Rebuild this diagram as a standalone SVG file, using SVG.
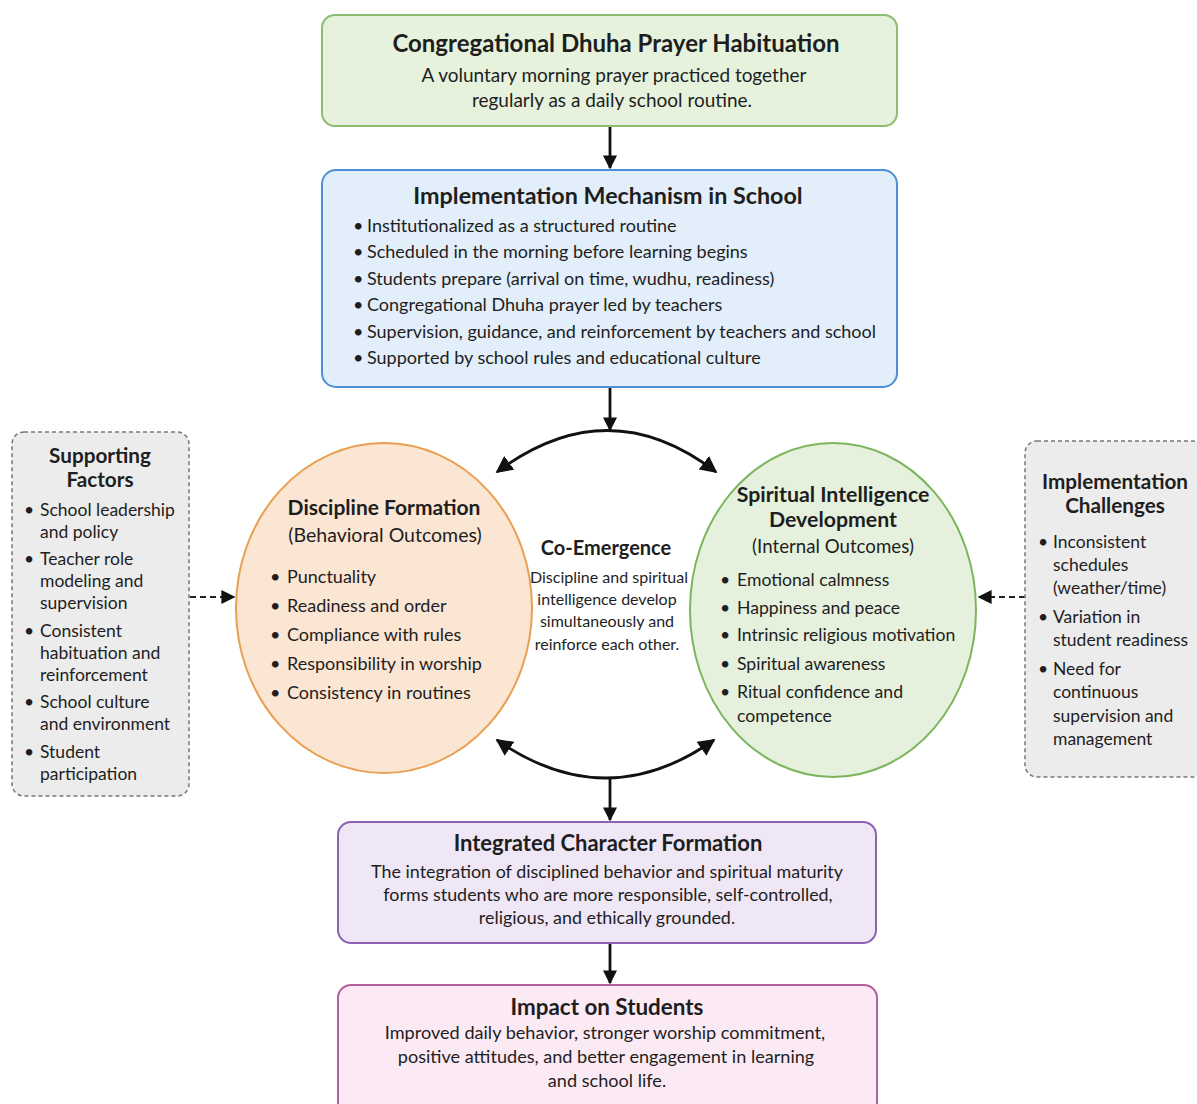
<svg xmlns="http://www.w3.org/2000/svg" width="1197" height="1104" viewBox="0 0 1197 1104">
<defs>
<marker id="ahb" viewBox="0 0 10 10" refX="9" refY="5" markerWidth="17" markerHeight="17" orient="auto-start-reverse" markerUnits="userSpaceOnUse">
<path d="M0,0 L10,5 L0,10 z" fill="#111"/>
</marker>
<marker id="ahs" viewBox="0 0 10 10" refX="9" refY="5" markerWidth="14" markerHeight="14" orient="auto-start-reverse" markerUnits="userSpaceOnUse">
<path d="M0,0 L10,5 L0,10 z" fill="#111"/>
</marker>
</defs>
<style>
text{font-family:Lato,"Open Sans","Liberation Sans",sans-serif;fill:#1e1e1e}
.t{font-weight:bold;text-anchor:middle}
.b{text-anchor:middle}
.sh{font-size:20.7px;font-weight:bold;text-anchor:middle}
.con{stroke:#111;stroke-width:2.8;fill:none}
.dash{stroke:#222;stroke-width:2;fill:none;stroke-dasharray:6 4}
</style>
<rect width="1197" height="1104" fill="#fff"/>

<g id="connectors">
<line class="con" x1="610" y1="127" x2="610" y2="168" marker-end="url(#ahs)"/>
<line class="con" x1="610" y1="388" x2="610" y2="430" marker-end="url(#ahs)"/>
<path class="con" d="M497,472 Q608,389 716,472" marker-start="url(#ahb)" marker-end="url(#ahb)"/>
<path class="con" d="M497,740 Q606,816 714,740" marker-start="url(#ahb)" marker-end="url(#ahb)"/>
<line class="con" x1="610" y1="777" x2="610" y2="820" marker-end="url(#ahs)"/>
<line class="con" x1="610" y1="944" x2="610" y2="983" marker-end="url(#ahs)"/>
<line class="dash" x1="190" y1="597" x2="234" y2="597" marker-end="url(#ahs)"/>
<line class="dash" x1="1025" y1="597" x2="979" y2="597" marker-end="url(#ahs)"/>
</g>

<g id="habituation">
<rect x="322" y="15" width="575" height="111" rx="13" fill="#e6f2dc" stroke="#8dbd70" stroke-width="2"/>
<text class="t" x="616" y="52" style="font-size:24px">Congregational Dhuha Prayer Habituation</text>
<text class="b" x="614" y="82" style="font-size:19px">A voluntary morning prayer practiced together</text>
<text class="b" x="612" y="107" style="font-size:19px">regularly as a daily school routine.</text>
</g>

<g id="mechanism">
<rect x="322" y="170" width="575" height="217" rx="14" fill="#e2eef9" stroke="#4d8fd4" stroke-width="2"/>
<text class="t" x="608" y="204" style="font-size:23.3px">Implementation Mechanism in School</text>
<g style="font-size:18px">
<text x="353" y="232">•</text><text x="367" y="232">Institutionalized as a structured routine</text>
<text x="353" y="258">•</text><text x="367" y="258">Scheduled in the morning before learning begins</text>
<text x="353" y="285">•</text><text x="367" y="285">Students prepare (arrival on time, wudhu, readiness)</text>
<text x="353" y="311">•</text><text x="367" y="311">Congregational Dhuha prayer led by teachers</text>
<text x="353" y="338">•</text><text x="367" y="338">Supervision, guidance, and reinforcement by teachers and school</text>
<text x="353" y="364">•</text><text x="367" y="364">Supported by school rules and educational culture</text>
</g>
</g>

<g id="supporting">
<rect x="12" y="432" width="177" height="364" rx="12" fill="#ececec" stroke="#777" stroke-width="1.5" stroke-dasharray="4 3"/>
<text class="sh" x="100" y="463">Supporting</text>
<text class="sh" x="100" y="487">Factors</text>
<g style="font-size:17.5px">
<text x="24" y="516">•</text><text x="40" y="516">School leadership</text>
<text x="40" y="538">and policy</text>
<text x="24" y="565">•</text><text x="40" y="565">Teacher role</text>
<text x="40" y="587">modeling and</text>
<text x="40" y="609">supervision</text>
<text x="24" y="637">•</text><text x="40" y="637">Consistent</text>
<text x="40" y="659">habituation and</text>
<text x="40" y="681">reinforcement</text>
<text x="24" y="708">•</text><text x="40" y="708">School culture</text>
<text x="40" y="730">and environment</text>
<text x="24" y="758">•</text><text x="40" y="758">Student</text>
<text x="40" y="780">participation</text>
</g>
</g>

<g id="challenges">
<rect x="1025" y="441" width="180" height="336" rx="12" fill="#ececec" stroke="#777" stroke-width="1.5" stroke-dasharray="4 3"/>
<text class="sh" x="1115" y="489">Implementation</text>
<text class="sh" x="1115" y="513">Challenges</text>
<g style="font-size:17.5px">
<text x="1038" y="548">•</text><text x="1053" y="548">Inconsistent</text>
<text x="1053" y="571">schedules</text>
<text x="1053" y="594">(weather/time)</text>
<text x="1038" y="623">•</text><text x="1053" y="623">Variation in</text>
<text x="1053" y="646">student readiness</text>
<text x="1038" y="675">•</text><text x="1053" y="675">Need for</text>
<text x="1053" y="698">continuous</text>
<text x="1053" y="722">supervision and</text>
<text x="1053" y="745">management</text>
</g>
</g>

<g id="discipline">
<ellipse cx="384" cy="608" rx="148" ry="165" fill="#fbe5d3" stroke="#e8a050" stroke-width="2"/>
<text class="t" x="384" y="515" style="font-size:21px">Discipline Formation</text>
<text class="b" x="385" y="542" style="font-size:19.5px">(Behavioral Outcomes)</text>
<g style="font-size:18px">
<text x="270" y="583">•</text><text x="287" y="583">Punctuality</text>
<text x="270" y="612">•</text><text x="287" y="612">Readiness and order</text>
<text x="270" y="641">•</text><text x="287" y="641">Compliance with rules</text>
<text x="270" y="670">•</text><text x="287" y="670">Responsibility in worship</text>
<text x="270" y="699">•</text><text x="287" y="699">Consistency in routines</text>
</g>
</g>

<g id="coemergence">
<text class="t" x="606" y="555" style="font-size:20px">Co-Emergence</text>
<g style="font-size:16px">
<text class="b" x="609" y="583">Discipline and spiritual</text>
<text class="b" x="607" y="605">intelligence develop</text>
<text class="b" x="607" y="627">simultaneously and</text>
<text class="b" x="607" y="650">reinforce each other.</text>
</g>
</g>

<g id="spiritual">
<ellipse cx="833" cy="610" rx="143" ry="167" fill="#e6f1dd" stroke="#7db55e" stroke-width="2"/>
<text class="t" x="833" y="502" style="font-size:21.3px">Spiritual Intelligence</text>
<text class="t" x="833" y="527" style="font-size:21.3px">Development</text>
<text class="b" x="833" y="553" style="font-size:18.7px">(Internal Outcomes)</text>
<g style="font-size:17.6px">
<text x="720" y="586">•</text><text x="737" y="586">Emotional calmness</text>
<text x="720" y="614">•</text><text x="737" y="614">Happiness and peace</text>
<text x="720" y="641">•</text><text x="737" y="641">Intrinsic religious motivation</text>
<text x="720" y="670">•</text><text x="737" y="670">Spiritual awareness</text>
<text x="720" y="698">•</text><text x="737" y="698">Ritual confidence and</text>
<text x="737" y="722">competence</text>
</g>
</g>

<g id="integrated">
<rect x="338" y="822" width="538" height="121" rx="13" fill="#efe6f6" stroke="#8c62b2" stroke-width="2"/>
<text class="t" x="608" y="851" style="font-size:22px">Integrated Character Formation</text>
<g style="font-size:17.9px">
<text class="b" x="607" y="878">The integration of disciplined behavior and spiritual maturity</text>
<text class="b" x="608" y="901">forms students who are more responsible, self-controlled,</text>
<text class="b" x="607" y="924">religious, and ethically grounded.</text>
</g>
</g>

<g id="impact">
<rect x="338" y="985" width="539" height="130" rx="13" fill="#fbe9f4" stroke="#b75ea3" stroke-width="2"/>
<text class="t" x="607" y="1015" style="font-size:22.4px">Impact on Students</text>
<g style="font-size:18.1px">
<text class="b" x="605" y="1039">Improved daily behavior, stronger worship commitment,</text>
<text class="b" x="606" y="1063">positive attitudes, and better engagement in learning</text>
<text class="b" x="607" y="1087">and school life.</text>
</g>
</g>
</svg>
